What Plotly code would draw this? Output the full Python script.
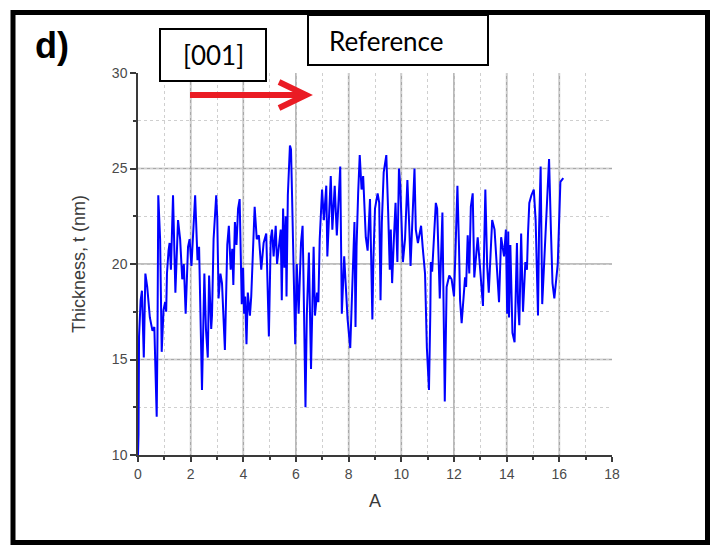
import plotly.graph_objects as go

# ---------------- data ----------------
position_A = [
    0.0, 0.02, 0.04, 0.1, 0.15, 0.22, 0.28, 0.35, 0.45, 0.55, 0.62, 0.66, 0.71, 0.74, 0.77, 0.84, 0.9, 0.97,
    1.03, 1.07, 1.1, 1.16, 1.2, 1.25, 1.33, 1.42, 1.52, 1.6, 1.68, 1.74, 1.81, 1.9, 1.96,
    2.03, 2.17, 2.26, 2.32, 2.43, 2.52, 2.58, 2.65, 2.7, 2.78, 2.81, 2.87, 2.97,
    3.01, 3.06, 3.13, 3.19, 3.26, 3.3, 3.39, 3.45, 3.52, 3.58, 3.62, 3.68, 3.74, 3.8, 3.86, 3.89, 3.94, 3.99,
    4.03, 4.07, 4.12, 4.17, 4.25, 4.3, 4.43, 4.51, 4.59, 4.68, 4.77, 4.87, 4.91, 4.97,
    5.04, 5.09, 5.15, 5.23, 5.28, 5.36, 5.42, 5.46, 5.51, 5.56, 5.61, 5.64, 5.69, 5.77, 5.81, 5.85, 5.9, 5.95, 5.97,
    6.03, 6.06, 6.1, 6.19, 6.25, 6.28, 6.32, 6.36, 6.41, 6.49, 6.57, 6.67, 6.72, 6.8, 6.85, 6.9, 6.99,
    7.06, 7.15, 7.19, 7.32, 7.38, 7.47, 7.55, 7.68, 7.7, 7.74, 7.83, 7.9, 7.96,
    8.06, 8.22, 8.26, 8.3, 8.36, 8.42, 8.49, 8.55, 8.65, 8.72, 8.81, 8.9, 8.94,
    9.0, 9.1, 9.16, 9.21, 9.26, 9.33, 9.43, 9.5, 9.56, 9.6, 9.65, 9.72, 9.78, 9.85, 9.91, 9.96,
    10.01, 10.06, 10.14, 10.23, 10.3, 10.35, 10.5, 10.55, 10.63, 10.75, 10.81, 10.9, 10.97,
    11.05, 11.1, 11.12, 11.17, 11.23, 11.31, 11.36, 11.46, 11.56, 11.62, 11.65, 11.72, 11.82, 11.91,
    12.0, 12.05, 12.13, 12.19, 12.23, 12.29, 12.36, 12.42, 12.46, 12.52, 12.58, 12.64, 12.71, 12.77, 12.9,
    13.0, 13.1, 13.19, 13.26, 13.32, 13.45, 13.54, 13.71, 13.79, 13.9, 13.97,
    14.02, 14.06, 14.09, 14.14, 14.22, 14.3, 14.39, 14.43, 14.48, 14.55, 14.62, 14.71, 14.77, 14.81, 14.86, 14.94,
    15.03, 15.1, 15.14, 15.19, 15.23, 15.29, 15.35, 15.46, 15.55, 15.61, 15.68, 15.74, 15.81, 15.87, 15.94,
    16.04, 16.15,
]
thickness_nm = [
    10.0, 11.1, 16.2, 18.1, 18.6, 15.1, 19.5, 18.8, 17.2, 16.5, 16.7, 14.1, 12.0, 16.2, 23.6, 21.3, 15.4, 17.6,
    18.0, 17.5, 19.5, 20.7, 21.1, 19.7, 23.6, 18.5, 22.3, 21.3, 19.2, 20.0, 17.4, 20.9, 21.3,
    19.9, 23.6, 20.2, 20.9, 13.4, 19.5, 16.6, 15.1, 19.4, 16.6, 17.3, 21.3, 23.6,
    22.4, 18.2, 19.5, 19.0, 16.2, 15.5, 21.0, 22.0, 19.7, 20.8, 18.9, 22.2, 21.0, 22.9, 23.4, 21.0, 17.9, 19.8,
    17.4, 18.3, 15.8, 18.5, 17.3, 18.3, 23.0, 21.3, 21.5, 19.7, 21.1, 21.6, 19.4, 16.2,
    21.3, 21.8, 20.4, 22.0, 20.0, 21.1, 21.8, 18.1, 22.9, 19.8, 22.5, 18.3, 23.6, 26.2, 26.0, 23.6, 20.9, 17.9, 15.8,
    20.0, 18.6, 17.4, 21.1, 22.0, 19.7, 15.6, 12.5, 17.3, 20.6, 14.5, 20.9, 17.3, 18.5, 18.0, 21.3, 23.9,
    22.3, 24.1, 20.4, 24.6, 21.8, 24.1, 21.5, 25.1, 21.1, 17.4, 20.4, 18.5, 17.1,
    15.6, 22.2, 16.7, 20.9, 23.7, 25.7, 23.9, 24.6, 21.4, 20.7, 23.4, 17.1, 20.3,
    22.9, 23.7, 23.2, 18.1, 22.2, 24.8, 25.7, 22.7, 19.7, 21.8, 19.0, 21.4, 23.2, 20.1, 25.0, 24.1,
    21.8, 20.1, 21.3, 24.4, 22.0, 19.9, 25.0, 21.8, 21.1, 22.0, 20.9, 19.5, 15.6,
    13.4, 17.4, 20.1, 19.6, 21.4, 23.2, 22.9, 18.2, 22.7, 14.5, 12.8, 18.8, 19.4, 19.2,
    18.3, 20.4, 24.1, 20.9, 18.1, 16.9, 18.3, 19.3, 18.8, 21.5, 19.5, 23.0, 23.7, 19.3, 21.4,
    19.7, 17.8, 23.9, 19.9, 18.5, 22.3, 21.8, 18.0, 21.4, 20.4, 21.8,
    17.4, 21.7, 17.2, 21.0, 16.4, 15.9, 21.1, 18.0, 16.8, 21.6, 17.5, 20.1, 19.7, 21.6, 23.2, 23.6,
    23.9, 22.3, 19.7, 17.3, 21.8, 25.1, 17.9, 21.0, 23.9, 25.5, 21.8, 19.0, 18.2, 19.1, 20.0,
    24.3, 24.5,
]

x_major_grid = [2, 4, 6, 8, 10, 12, 14, 16]
y_major_grid = [15, 20, 25]
x_ticks = [0, 2, 4, 6, 8, 10, 12, 14, 16, 18]
y_ticks = [10, 15, 20, 25, 30]

panel_label = "d)"
box_label_1 = "[001]"
box_label_2 = "Reference"
x_title = "A"
y_title = "Thickness, t (nm)"

# ---------------- layout geometry (pixels, in screen coords) ----------------
# the page body has an 8px margin, so the figure is placed 8px in from the window corner
OFF = 8
W, H = 719 - OFF, 545 - OFF
L, R, T, B = 138 - OFF, 612 - OFF, 73 - OFF, 455 - OFF


def px(x):
    return (x - OFF - L) / (R - L)


def py(y):
    return (B - (y - OFF)) / (B - T)


fig = go.Figure()
fig.add_trace(go.Scatter(
    x=position_A, y=thickness_nm, mode="lines",
    line=dict(color="#0000ff", width=2), showlegend=False,
))

shapes = []
# major grid lines
for gx in x_major_grid:
    shapes.append(dict(type="line", xref="x", yref="paper", x0=gx, x1=gx, y0=0, y1=1,
                       line=dict(color="#a8a8a8", width=1.6), layer="below"))
for gy in y_major_grid:
    shapes.append(dict(type="line", xref="paper", yref="y", x0=0, x1=1, y0=gy, y1=gy,
                       line=dict(color="#a8a8a8", width=1.6), layer="below"))

# outer frame
shapes.append(dict(type="rect", xref="paper", yref="paper",
                   x0=px(13), x1=px(707.5), y0=py(542.5), y1=py(12.5),
                   line=dict(color="black", width=5), layer="above"))
# text boxes
shapes.append(dict(type="rect", xref="paper", yref="paper",
                   x0=px(160), x1=px(266), y0=py(81), y1=py(29),
                   line=dict(color="black", width=2), fillcolor="white", layer="above"))
shapes.append(dict(type="rect", xref="paper", yref="paper",
                   x0=px(308), x1=px(488), y0=py(65), y1=py(15),
                   line=dict(color="black", width=2), fillcolor="white", layer="above"))
# red arrow
shapes.append(dict(type="line", xref="paper", yref="paper",
                   x0=px(190), x1=px(302), y0=py(95), y1=py(95),
                   line=dict(color="#ea1c24", width=6), layer="above"))
shapes.append(dict(type="path", xref="paper", yref="paper",
                   path=f"M {px(279)},{py(82)} L {px(306)},{py(95)} L {px(279)},{py(108)}",
                   line=dict(color="#ea1c24", width=6), layer="above"))

annotations = [
    dict(text=f"<b>{panel_label}</b>", xref="paper", yref="paper", x=px(52), y=py(46),
         showarrow=False, font=dict(family="Liberation Sans, Arial", size=36, color="black"),
         xanchor="center", yanchor="middle"),
    dict(text=box_label_1, xref="paper", yref="paper", x=px(213), y=py(55),
         showarrow=False, font=dict(family="Lato", size=26, color="black"),
         xanchor="center", yanchor="middle"),
    dict(text=box_label_2, xref="paper", yref="paper", x=px(386), y=py(41),
         showarrow=False, font=dict(family="Lato", size=26, color="black"),
         xanchor="center", yanchor="middle"),
]

axis_font = dict(family="Liberation Sans, Arial", size=14, color="#4a4a4a")
title_font = dict(family="Liberation Sans, Arial", size=18, color="#3a3a3a")

fig.update_layout(
    width=W, height=H,
    margin=dict(l=L, r=W - R, t=T, b=H - B, pad=0),
    paper_bgcolor="white", plot_bgcolor="white",
    shapes=shapes, annotations=annotations,
    xaxis=dict(
        range=[0, 18], tickvals=x_ticks, ticktext=[str(v) for v in x_ticks],
        showgrid=False, zeroline=False,
        showline=True, linecolor="#3a3a3a", linewidth=1.5,
        ticks="outside", ticklen=5, tickwidth=1.5, tickcolor="#3a3a3a",
        tickfont=axis_font,
        minor=dict(dtick=1, ticks="outside", ticklen=3, tickcolor="#3a3a3a",
                   showgrid=True, gridcolor="#cfcfcf", griddash="dot", gridwidth=1),
        title=dict(text=x_title, font=title_font, standoff=14),
    ),
    yaxis=dict(
        range=[10, 30], tickvals=y_ticks, ticktext=[str(v) for v in y_ticks],
        showgrid=False, zeroline=False,
        showline=True, linecolor="#3a3a3a", linewidth=1.5,
        ticks="outside", ticklen=6, tickwidth=1.5, tickcolor="#3a3a3a",
        tickfont=axis_font,
        minor=dict(dtick=2.5, ticks="outside", ticklen=3, tickcolor="#3a3a3a",
                   showgrid=True, gridcolor="#cfcfcf", griddash="dot", gridwidth=1),
        title=dict(text=y_title, font=title_font, standoff=22),
    ),
)

fig.write_html("out.html")
